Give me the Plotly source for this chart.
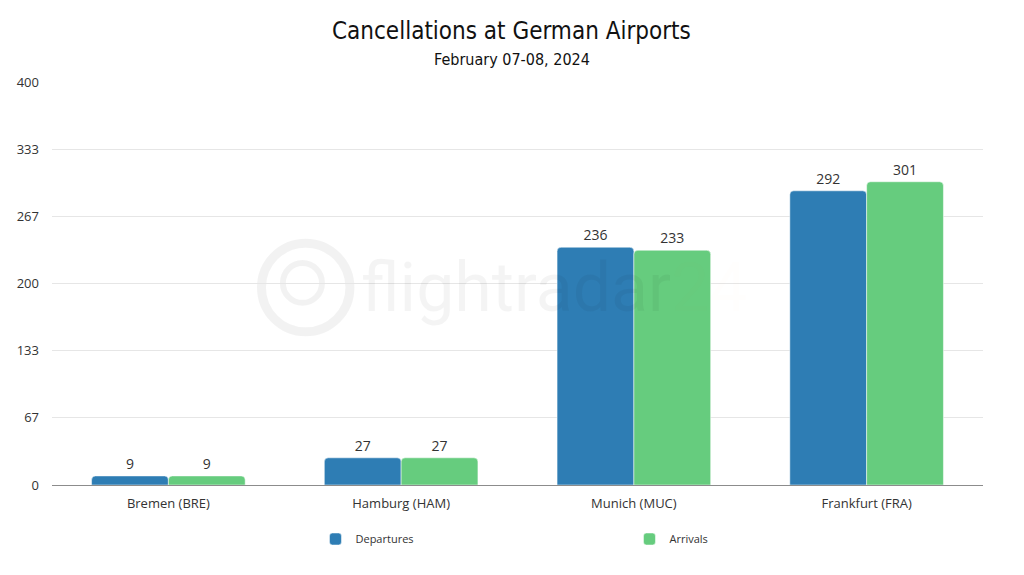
import plotly.graph_objects as go

# data
airports = ["Bremen (BRE)", "Hamburg (HAM)", "Munich (MUC)", "Frankfurt (FRA)"]
departures = [9, 27, 236, 292]
arrivals = [9, 27, 233, 301]
tick_labels = ["0", "67", "133", "200", "267", "333", "400"]

y_max = 400
tick_vals = [y_max / 6 * i for i in range(len(tick_labels))]

label_font = dict(family="Open Sans, Noto Sans, sans-serif", size=13, color="#333333")
bar_font = dict(family="Open Sans, Noto Sans, sans-serif", size=14, color="#333333")
title_font = "DejaVu Sans Condensed, Roboto, sans-serif"

fig = go.Figure()

fig.add_trace(go.Bar(
    x=airports, y=departures, name="Departures",
    marker=dict(color="#2e7db4", cornerradius=4, line=dict(color="white", width=0.5)),
    text=departures, textposition="outside", textfont=bar_font,
    cliponaxis=False,
))
fig.add_trace(go.Bar(
    x=airports, y=arrivals, name="Arrivals",
    marker=dict(color="#66cc7e", cornerradius=4, line=dict(color="white", width=0.5)),
    text=arrivals, textposition="outside", textfont=bar_font,
    cliponaxis=False,
))

# title + subtitle, centred on the page
fig.add_annotation(text="Cancellations at German Airports", xref="paper", yref="paper",
                   x=0.4936, y=1.1266, xanchor="center", yanchor="middle", showarrow=False,
                   font=dict(family=title_font, size=24, color="#111111"))
fig.add_annotation(text="February 07-08, 2024", xref="paper", yref="paper",
                   x=0.4936, y=1.057, xanchor="center", yanchor="middle", showarrow=False,
                   font=dict(family=title_font, size=16, color="#111111"))

# faint watermark (logo ring + wordmark)
fig.add_shape(type="circle", xref="paper", yref="paper",
              x0=0.225, x1=0.32, y0=0.38, y1=0.60,
              line=dict(color="rgba(0,0,0,0.05)", width=9), layer="below")
fig.add_shape(type="circle", xref="paper", yref="paper",
              x0=0.248, x1=0.29, y0=0.452, y1=0.551,
              line=dict(color="rgba(0,0,0,0.05)", width=6), layer="below")
fig.add_annotation(text="flightradar<span style='color:rgba(255,190,40,0.16)'>24</span>",
                   xref="paper", yref="paper", x=0.33, y=0.49, xanchor="left",
                   yanchor="middle", showarrow=False,
                   font=dict(family="Roboto, sans-serif", size=68, color="rgba(0,0,0,0.045)"))

fig.update_layout(
    width=1008, height=559,
    margin=dict(l=44, r=33, t=74, b=82),
    paper_bgcolor="white", plot_bgcolor="white",
    barmode="group", bargap=0.34, bargroupgap=0.0,
    legend=dict(
        orientation="h", x=0.283, xanchor="left", y=-0.134, yanchor="middle",
        entrywidth=269, entrywidthmode="pixels",
        font=dict(family="Open Sans, Noto Sans, sans-serif", size=11, color="#333333"),
    ),
    showlegend=True,
)

fig.update_xaxes(
    showgrid=False, showline=True, linecolor="#8c8c8c", linewidth=1,
    tickfont=label_font, ticks="", ticklabelstandoff=6, automargin=False,
)
fig.update_yaxes(
    range=[0, y_max], tickvals=tick_vals, ticktext=tick_labels,
    showgrid=True, gridcolor="#e6e6e6", gridwidth=1,
    zeroline=False, showline=False, tickfont=label_font, ticks="",
    ticklabelstandoff=12, automargin=False,
)

fig.write_html("out.html")
